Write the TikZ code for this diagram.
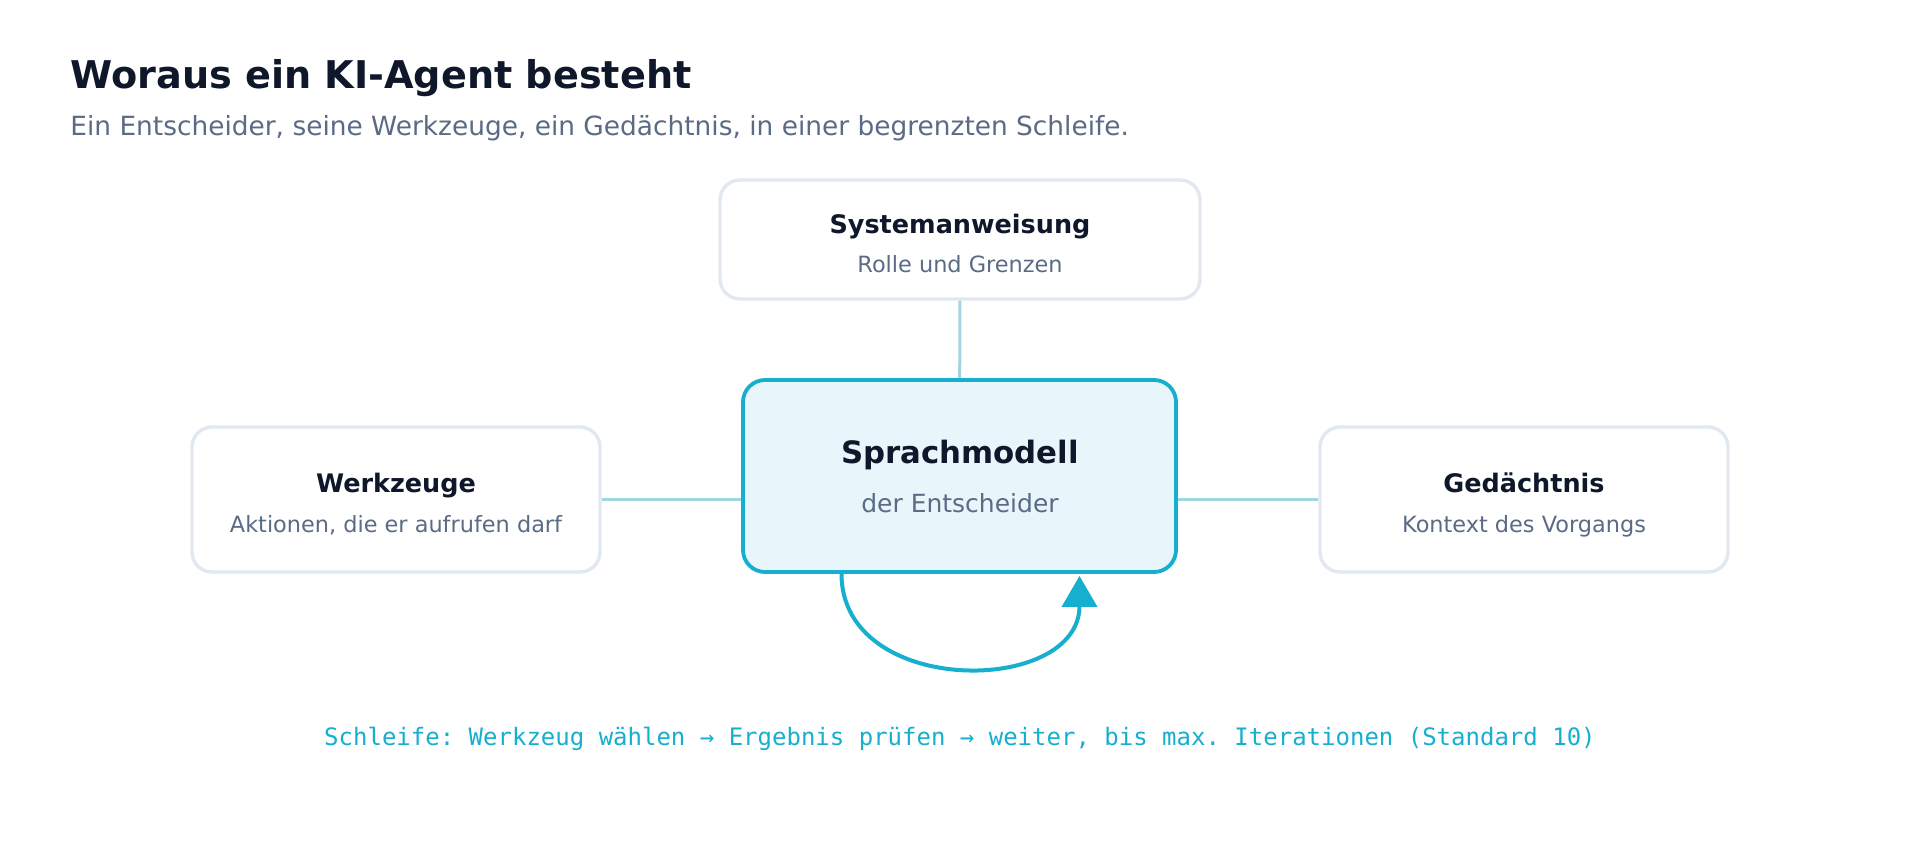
\documentclass[tikz,border=0pt]{standalone}
\usepackage{fontspec}
\setmainfont{DejaVu Sans}
\setmonofont{DejaVu Sans Mono}
\usetikzlibrary{arrows.meta}
\definecolor{ink}{HTML}{0F172A}
\definecolor{slate}{HTML}{5B6B86}
\definecolor{edge}{HTML}{E2E8F0}
\definecolor{accent}{HTML}{16AFCF}
\definecolor{accentfill}{HTML}{E8F6FB}
\definecolor{linkcol}{HTML}{9FD6E0}
\begin{document}
\begin{tikzpicture}[x=0.5pt,y=-0.5pt,
        part/.style={draw=edge, line width=1.7pt, rounded corners=10pt, fill=white, minimum width=204pt, minimum height=72.5pt},
        head/.style={anchor=base, inner sep=0pt, text=ink, font=\bfseries\fontsize{12.75}{15}\selectfont},
        sub/.style={anchor=base, inner sep=0pt, text=slate, font=\fontsize{11.2}{13}\selectfont},
        link/.style={draw=linkcol, line width=1.5pt}]
        \fill[white] (0,0) rectangle (1920,840);
        \useasboundingbox (0,0) rectangle (1920,840);

        \node[anchor=base west, inner sep=0pt, text=ink, font=\bfseries\fontsize{19.1}{23}\selectfont] (title) at (70,89) {Woraus ein KI-Agent besteht};
        \node[anchor=base west, inner sep=0pt, text=slate, font=\fontsize{13.2}{16}\selectfont] (subtitle) at (70,135) {Ein Entscheider, seine Werkzeuge, ein Gedächtnis, in einer begrenzten Schleife.};

        \node[part, minimum width=240pt, minimum height=59.5pt] (sys) at (960,239.5) {};
        \node[part] (tools) at (396,499.5) {};
        \node[part] (memory) at (1524,499.5) {};
        \node[draw=accent, fill=accentfill, line width=1.9pt, rounded corners=11pt, minimum width=216.5pt, minimum height=96pt] (llm) at (959.5,476) {};

        \draw[link] (sys) -- (llm);
        \draw[link] (tools) -- (tools -| llm.west);
        \draw[link] (memory) -- (memory -| llm.east);

        \node[head] (sysHead) at (960,233) {Systemanweisung};
        \node[sub] (sysSub) at (960,272) {Rolle und Grenzen};
        \node[head, font=\bfseries\fontsize{15.4}{18}\selectfont] (llmHead) at (960,463) {Sprachmodell};
        \node[sub, font=\fontsize{12.5}{15}\selectfont] (llmSub) at (960,512) {der Entscheider};
        \node[head] (toolsHead) at (396,492) {Werkzeuge};
        \node[sub] (toolsSub) at (396,532) {Aktionen, die er aufrufen darf};
        \node[head] (memHead) at (1524,492) {Gedächtnis};
        \node[sub] (memSub) at (1524,532) {Kontext des Vorgangs};

        % loop below the model
        \coordinate (loopStart) at ([xshift=-59pt]llm.south);
        \coordinate (loopEnd) at ([xshift=60pt,yshift=-1pt]llm.south);
        \draw[accent, line width=2pt, -{Triangle[width=17.5pt,length=15.5pt]}] (loopStart) .. controls +(0,124) and +(0,120) .. (loopEnd);

        \node[anchor=base, inner sep=0pt, text=accent, font=\ttfamily\fontsize{12}{14}\selectfont] (loopNote) at (960,745) {Schleife: Werkzeug wählen → Ergebnis prüfen → weiter, bis max. Iterationen (Standard 10)};

    \end{tikzpicture}
\end{document}
